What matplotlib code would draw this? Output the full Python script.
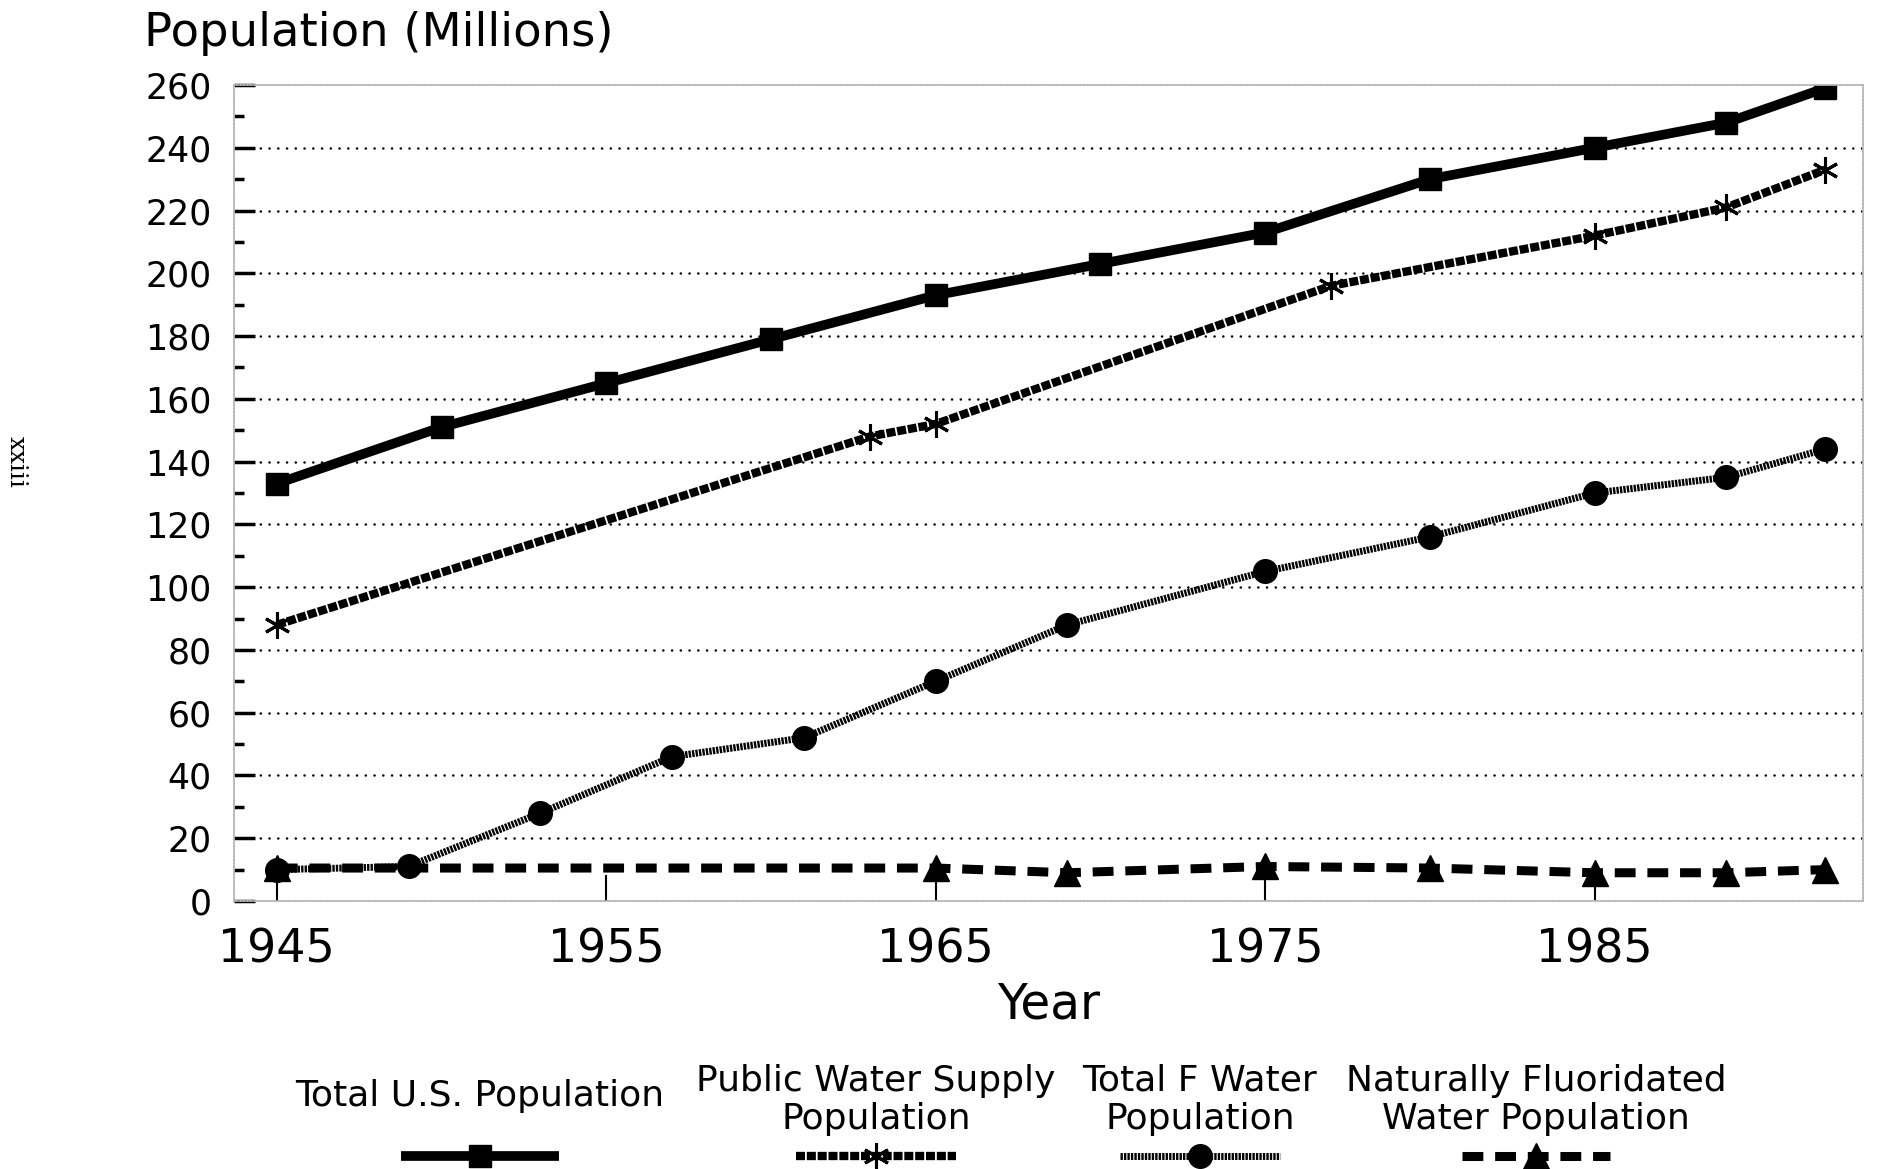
import matplotlib
matplotlib.use("Agg")
import matplotlib.pyplot as plt
from matplotlib.lines import Line2D

plt.rcParams['font.family'] = ['DejaVu Sans']
plt.rcParams['lines.scale_dashes'] = False

# data (millions)
us_years = [1945, 1950, 1955, 1960, 1965, 1970, 1975, 1980, 1985, 1989, 1992]
us_pop = [133, 151, 165, 179, 193, 203, 213, 230, 240, 248, 259]

pws_years = [1945, 1963, 1965, 1977, 1985, 1989, 1992]
pws_pop = [88, 148, 152, 196, 212, 221, 233]

tf_years = [1945, 1949, 1953, 1957, 1961, 1965, 1969, 1975, 1980, 1985, 1989, 1992]
tf_pop = [10, 11, 28, 46, 52, 70, 88, 105, 116, 130, 135, 144]

nf_years = [1945, 1965, 1969, 1975, 1980, 1985, 1989, 1992]
nf_pop = [10.5, 10.5, 9, 11, 10.5, 9, 9, 10]

labels = ["Total U.S. Population", "Public Water Supply\nPopulation",
          "Total F Water\nPopulation", "Naturally Fluoridated\nWater Population"]
x_ticks = [1945, 1955, 1965, 1975, 1985]
y_ticks = list(range(0, 261, 20))

W, H = 1879, 1169
fig = plt.figure(figsize=(W / 100, H / 100), dpi=100)
ax = fig.add_axes([234 / W, 1 - 901 / H, (1863 - 234) / W, (901 - 85) / H])

styles = [
    dict(color="black", lw=7, ls="-", marker="s", ms=16.5),
    dict(color="black", lw=6, ls=(0, (6.5, 1.3)), marker=(6, 2, 0), ms=19, mew=2.2),
    dict(color="black", lw=5, ls=(0, (1.7, 0.8)), marker="o", ms=17),
    dict(color="black", lw=6.5, ls=(0, (15, 8.5)), marker="^", ms=19),
]
series = [(us_years, us_pop), (pws_years, pws_pop), (tf_years, tf_pop), (nf_years, nf_pop)]

for (xs, ys), st in zip(series, styles):
    ax.plot(xs, ys, dash_capstyle="butt", solid_capstyle="butt", **st)

# dotted gridlines between frame edges
ax.hlines(y_ticks[1:-1], 1943.7, 1993.15, colors="black", lw=1.8,
          linestyles=(0, (0.1, 6.2)), capstyle="round", zorder=0)

ax.set_xlim(1943.7, 1993.15)
ax.set_ylim(0, 260)
ax.set_xticks(x_ticks)
ax.set_yticks(y_ticks)
ax.set_yticks(range(10, 260, 20), minor=True)
ax.tick_params(axis="x", direction="in", length=19, width=1.5, pad=19, labelsize=33)
ax.tick_params(axis="y", which="major", direction="in", length=15, width=2.5, pad=16, labelsize=25)
ax.tick_params(axis="y", which="minor", direction="in", length=7, width=2.5)
for s in ax.spines.values():
    s.set_color("#b5b5b5")
    s.set_linewidth(1.2)
    s.set_linestyle((0, (1.5, 1)))

ax.set_xlabel("Year", fontsize=35, labelpad=6)
fig.text(144 / W, 1 - 46 / H, "Population (Millions)", fontsize=33.5, va="baseline", ha="left")
fig.text(16 / W, 1 - 462 / H, "xxiii", fontsize=18, rotation=-90, family="DejaVu Serif",
         va="center", ha="center")

# legend: label text above a line sample
lax = fig.add_axes([0, 0, 1, 1], zorder=-1)
lax.set_xlim(0, W)
lax.set_ylim(H, 0)
lax.axis("off")
centers = [480, 876, 1200, 1536]
half = [79, 80, 80, 74]
for c, hw, lab, st in zip(centers, half, labels, styles):
    ty = 1096 if "\n" not in lab else 1100
    lax.text(c, ty, lab, fontsize=26, ha="center", va="center", linespacing=1.15)
    lax.add_line(Line2D([c - hw, c + hw], [1156, 1156], dash_capstyle="butt",
                        solid_capstyle="butt", markevery=[], **st))
    lax.plot([c], [1156], marker=st["marker"], ms=st["ms"], mew=st.get("mew", 1), color="black")

fig.savefig("out.png", dpi=100)
